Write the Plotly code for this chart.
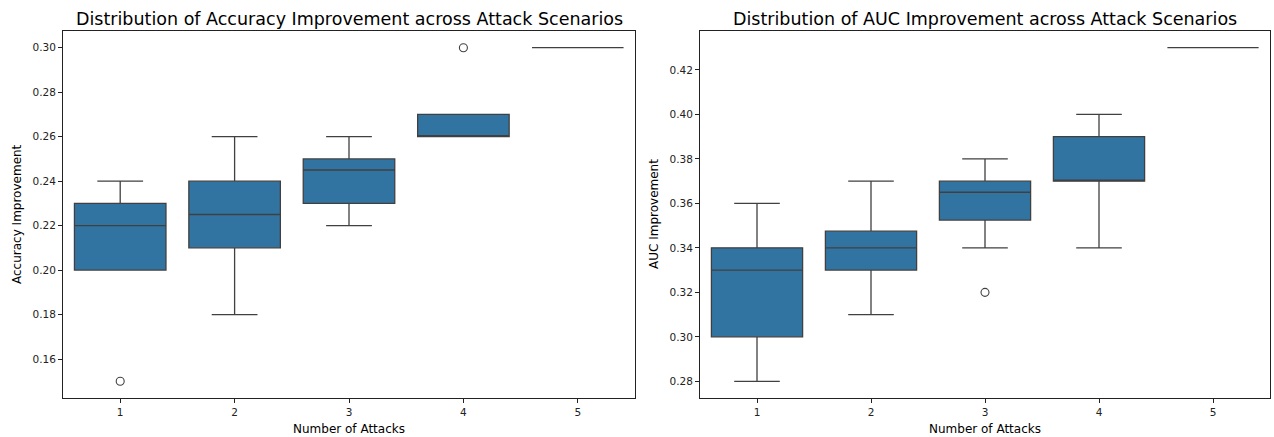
import plotly.graph_objects as go

categories = ["1", "2", "3", "4", "5"]

# Accuracy improvement box statistics
acc_lower = [0.20, 0.18, 0.22, 0.26, 0.30]
acc_q1 = [0.20, 0.21, 0.23, 0.26, 0.30]
acc_median = [0.22, 0.225, 0.245, 0.26, 0.30]
acc_q3 = [0.23, 0.24, 0.25, 0.27, 0.30]
acc_upper = [0.24, 0.26, 0.26, 0.27, 0.30]
acc_outlier_x = ["1", "4"]
acc_outlier_y = [0.15, 0.30]

# AUC improvement box statistics
auc_lower = [0.28, 0.31, 0.34, 0.34, 0.43]
auc_q1 = [0.30, 0.33, 0.3525, 0.37, 0.43]
auc_median = [0.33, 0.34, 0.365, 0.37, 0.43]
auc_q3 = [0.34, 0.3475, 0.37, 0.39, 0.43]
auc_upper = [0.36, 0.37, 0.38, 0.40, 0.43]
auc_outlier_x = ["3"]
auc_outlier_y = [0.32]

FILL = "#3274a1"
LINE = "#404040"
FONT = "DejaVu Sans"

fig = go.Figure()

def add_box(xaxis, yaxis, lo, q1, med, q3, hi, ox, oy):
    fig.add_trace(go.Box(
        x=categories, q1=q1, median=med, q3=q3, lowerfence=lo, upperfence=hi,
        fillcolor=FILL, line=dict(color=LINE, width=1.3), whiskerwidth=0.5,
        boxpoints=False, xaxis=xaxis, yaxis=yaxis, showlegend=False,
    ))
    fig.add_trace(go.Scatter(
        x=ox, y=oy, mode="markers", xaxis=xaxis, yaxis=yaxis, showlegend=False,
        marker=dict(symbol="circle-open", size=8, color=LINE, line=dict(width=1.1)),
    ))

add_box("x", "y", acc_lower, acc_q1, acc_median, acc_q3, acc_upper, acc_outlier_x, acc_outlier_y)
add_box("x2", "y2", auc_lower, auc_q1, auc_median, auc_q3, auc_upper, auc_outlier_x, auc_outlier_y)

W, H = 1274, 437
ydom = [1 - 398 / H, 1 - 31 / H]
ax_common = dict(
    showline=True, mirror=True, linecolor="#222", linewidth=1,
    ticks="outside", ticklen=4, tickcolor="#222", showgrid=False, zeroline=False,
    tickfont=dict(family=FONT, size=10.5, color="#222"),
)

fig.update_layout(
    width=W, height=H, margin=dict(l=0, r=0, t=0, b=0),
    paper_bgcolor="white", plot_bgcolor="white",
    boxgap=0.2, boxgroupgap=0, boxmode="overlay",
    font=dict(family=FONT, color="#222"),
    xaxis=dict(domain=[63 / W, 635 / W], type="category", range=[-0.5, 4.5], anchor="y", **ax_common),
    yaxis=dict(domain=ydom, range=[0.1425, 0.3075], tickvals=[0.16, 0.18, 0.20, 0.22, 0.24, 0.26, 0.28, 0.30],
               tickformat=".2f", anchor="x", **ax_common),
    xaxis2=dict(domain=[700 / W, 1270 / W], type="category", range=[-0.5, 4.5], anchor="y2", **ax_common),
    yaxis2=dict(domain=ydom, range=[0.2725, 0.4375], tickvals=[0.28, 0.30, 0.32, 0.34, 0.36, 0.38, 0.40, 0.42],
                tickformat=".2f", anchor="x2", **ax_common),
)

annots = [
    dict(text="Distribution of Accuracy Improvement across Attack Scenarios", x=(63 + 635) / 2 / W, y=1 - 19 / H,
         font=dict(size=17.5, family=FONT, color="black")),
    dict(text="Distribution of AUC Improvement across Attack Scenarios", x=(700 + 1270) / 2 / W, y=1 - 19 / H,
         font=dict(size=17.5, family=FONT, color="black")),
    dict(text="Number of Attacks", x=(63 + 635) / 2 / W, y=1 - 429 / H, font=dict(size=12, family=FONT, color="black")),
    dict(text="Number of Attacks", x=(700 + 1270) / 2 / W, y=1 - 429 / H, font=dict(size=12, family=FONT, color="black")),
    dict(text="Accuracy Improvement", x=17 / W, y=(1 - 214 / H), textangle=-90, font=dict(size=12, family=FONT, color="black")),
    dict(text="AUC Improvement", x=654 / W, y=(1 - 214 / H), textangle=-90, font=dict(size=12, family=FONT, color="black")),
]
for a in annots:
    fig.add_annotation(xref="paper", yref="paper", showarrow=False, xanchor="center", yanchor="middle", **a)

fig.write_html("out.html", config={"displayModeBar": False},
               post_script="document.body.style.margin='0';document.body.style.overflow='hidden';")
